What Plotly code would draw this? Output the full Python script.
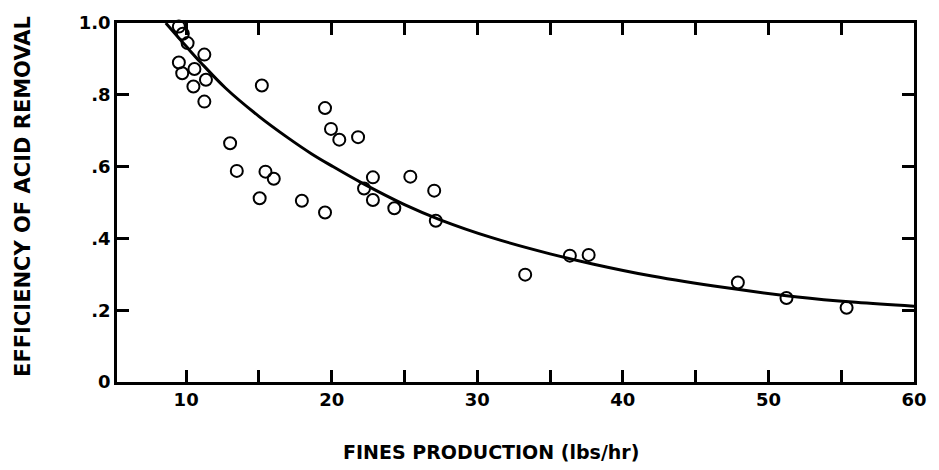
import plotly.graph_objects as go

# Observed data points (fines production lbs/hr, efficiency of acid removal)
obs_x = [9.5, 9.77, 10.1, 11.25, 9.5, 10.57, 9.73, 11.36, 10.5, 11.25, 15.2,
         13.02, 13.48, 15.45, 16.02, 15.05, 17.95, 19.54, 19.54, 19.95, 20.52,
         21.81, 22.83, 22.22, 22.83, 24.3, 25.4, 27.04, 27.15,
         33.29, 36.36, 37.65, 47.9, 51.24, 55.37]
obs_y = [0.99, 0.97, 0.944, 0.912, 0.89, 0.872, 0.86, 0.842, 0.823, 0.781, 0.826,
         0.665, 0.588, 0.586, 0.566, 0.512, 0.505, 0.472, 0.763, 0.705, 0.675,
         0.682, 0.570, 0.539, 0.507, 0.484, 0.572, 0.533, 0.449,
         0.299, 0.352, 0.354, 0.277, 0.234, 0.207]

# Fitted curve
curve_x = [8.6, 10.0, 11.0, 12.7, 15.0, 17.0, 18.6, 20.0, 22.0, 25.0, 27.5,
           31.0, 35.0, 38.0, 42.0, 47.0, 52.0, 56.0, 60.0]
curve_y = [1.0, 0.935, 0.890, 0.819, 0.740, 0.680, 0.636, 0.602, 0.556, 0.494, 0.451,
           0.402, 0.357, 0.328, 0.295, 0.263, 0.237, 0.222, 0.211]

y_tickvals = [0, 0.2, 0.4, 0.6, 0.8, 1.0]
y_ticktext = ["0", ".2", ".4", ".6", ".8", "1.0"]
x_tickvals = [10, 15, 20, 25, 30, 35, 40, 45, 50, 55, 60]
x_ticktext = ["10", "", "20", "", "30", "", "40", "", "50", "", "60"]

x_title = "FINES PRODUCTION (lbs/hr)"
y_title = "EFFICIENCY OF ACID REMOVAL"

FONT = "DejaVu Sans"

fig = go.Figure()
fig.add_trace(go.Scatter(
    x=curve_x, y=curve_y, mode="lines",
    line=dict(color="black", width=3, shape="spline", smoothing=1.0),
    hoverinfo="skip", showlegend=False, cliponaxis=True))
fig.add_trace(go.Scatter(
    x=obs_x, y=obs_y, mode="markers",
    marker=dict(symbol="circle-open", size=12, color="black",
                line=dict(color="black", width=2)),
    showlegend=False, cliponaxis=False))

axis_common = dict(
    showline=True, linecolor="black", linewidth=2.5, mirror="allticks",
    ticks="inside", ticklen=12, tickwidth=2.5,
    showgrid=False, zeroline=False,
    tickfont=dict(family=FONT, size=18, color="black", weight="bold"),
)

fig.update_xaxes(range=[5.25, 60], tickvals=x_tickvals, ticktext=x_ticktext,
                 tickcolor="black", **axis_common)
fig.update_yaxes(range=[0, 1.0], tickvals=y_tickvals, ticktext=y_ticktext,
                 tickcolor="black", **axis_common)

fig.add_annotation(text=x_title, xref="paper", yref="paper",
                   x=(495 - 117) / (922 - 117), y=-(452 - 382) / (382 - 23),
                   showarrow=False, xanchor="center", yanchor="middle",
                   font=dict(family=FONT, size=19, color="black", weight="bold"))
fig.add_annotation(text=y_title, xref="paper", yref="paper",
                   x=-(117 - 22) / (922 - 117), y=(382 - 196) / (382 - 23),
                   showarrow=False, xanchor="center", yanchor="middle", textangle=-90,
                   font=dict(family=FONT, size=21, color="black", weight="bold"))

fig.update_layout(
    width=939, height=470,
    margin=dict(l=117, r=17, t=23, b=88),
    plot_bgcolor="rgba(0,0,0,0)", paper_bgcolor="white",
)

fig.write_html("out.html")
